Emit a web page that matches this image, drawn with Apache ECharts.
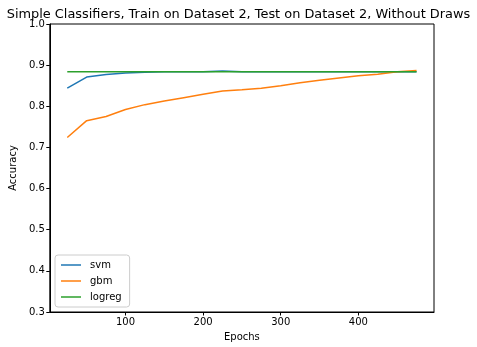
<!DOCTYPE html>
<html><head><meta charset="utf-8">
<script src="https://cdn.jsdelivr.net/npm/echarts@6/dist/echarts.min.js"></script>
<style>html,body{margin:0;padding:0;background:#fff}#c{width:477px;height:347px}</style>
</head><body><div id="c"></div>
<script>
const epochs = [25,50,75,100,125,150,175,200,225,250,275,300,325,350,375,400,425,450,475];
const svm = [0.844,0.871,0.877,0.881,0.883,0.884,0.884,0.884,0.886,0.884,0.884,0.884,0.884,0.884,0.884,0.884,0.884,0.884,0.884];
const gbm = [0.724,0.765,0.775,0.792,0.804,0.813,0.821,0.829,0.837,0.840,0.844,0.850,0.857,0.863,0.869,0.874,0.878,0.884,0.887];
const logreg = [0.884,0.884,0.884,0.884,0.884,0.884,0.884,0.884,0.884,0.884,0.884,0.884,0.884,0.884,0.884,0.884,0.884,0.884,0.884];
const xTicks = [100,200,300,400];
const yTicks = [0.3,0.4,0.5,0.6,0.7,0.8,0.9,1.0];

const font = 'DejaVu Sans';
const chart = echarts.init(document.getElementById('c'));
const mk = (name, vals, color) => ({
  name, type:'line', data: epochs.map((e,i)=>[e,vals[i]]), showSymbol:false, symbol:'none',
  lineStyle:{color, width:1.5}, itemStyle:{color}, animation:false
});
chart.setOption({
  animation:false,
  title:{text:'Simple Classifiers, Train on Dataset 2, Test on Dataset 2, Without Draws', left:'center', top:3,
    textStyle:{fontFamily:font, fontSize:12.9, fontWeight:'normal', color:'#000'}},
  grid:{left:48, right:43, top:24, bottom:35, show:true, borderColor:'#000', borderWidth:1, backgroundColor:'transparent'},
  legend:{orient:'vertical', left:55, top:255, data:['svm','gbm','logreg'], icon:'rect', itemWidth:20, itemHeight:1.5,
    itemGap:6, padding:[5,8,5,6], borderColor:'#ccc', borderWidth:1, borderRadius:3, backgroundColor:'rgba(255,255,255,0.8)',
    textStyle:{fontFamily:font, fontSize:10, color:'#000', padding:[0,0,0,4]}},
  xAxis:{type:'value', min:2.5, max:497.5, name:'Epochs', nameLocation:'middle', nameGap:20,
    nameTextStyle:{fontFamily:font, fontSize:10, color:'#000'},
    axisLine:{show:true, lineStyle:{color:'#000'}},
    axisTick:{show:true, length:3.5, lineStyle:{color:'#000'}, customValues:xTicks},
    axisLabel:{fontFamily:font, fontSize:10, color:'#000', margin:5, customValues:xTicks},
    splitLine:{show:false}},
  yAxis:{type:'value', min:0.3, max:1.0, interval:0.1, name:'Accuracy', nameLocation:'middle', nameGap:30,
    nameTextStyle:{fontFamily:font, fontSize:10, color:'#000'},
    axisLine:{show:true, lineStyle:{color:'#000'}},
    axisTick:{show:true, length:3.5, lineStyle:{color:'#000'}},
    axisLabel:{fontFamily:font, fontSize:10, color:'#000', margin:5, formatter:v=>v.toFixed(1)},
    splitLine:{show:false}},
  series:[mk('svm',svm,'#1f77b4'), mk('gbm',gbm,'#ff7f0e'), mk('logreg',logreg,'#2ca02c')]
});
</script></body></html>
